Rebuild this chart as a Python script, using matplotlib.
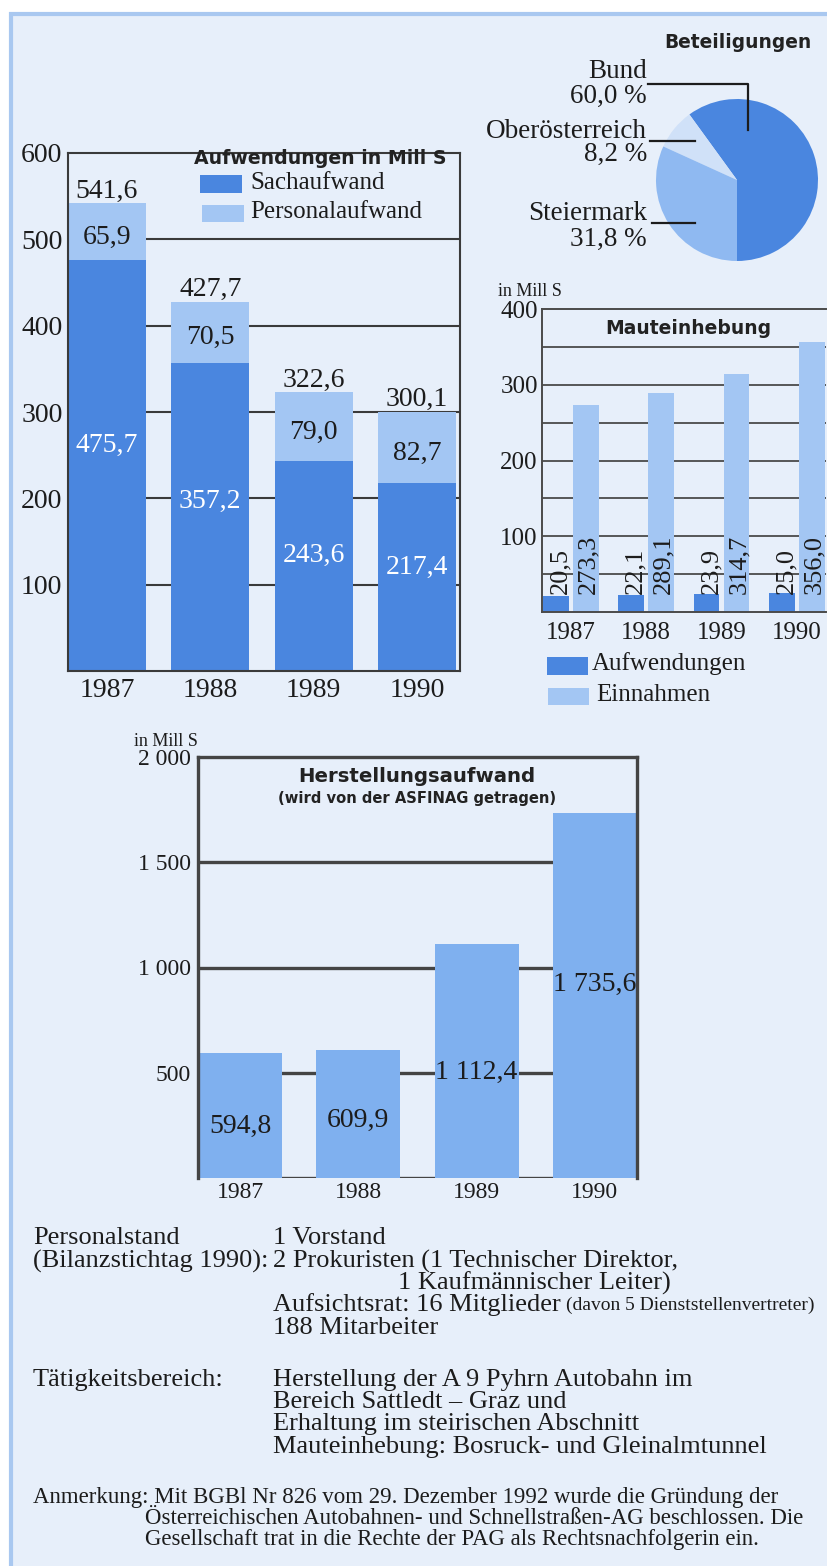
import matplotlib.pyplot as plt
from matplotlib.patches import Rectangle

plt.rcParams['font.family'] = ['Liberation Serif', 'DejaVu Serif']

# Aufwendungen in Mill S
years = ['1987', '1988', '1989', '1990']
sachaufwand = [475.7, 357.2, 243.6, 217.4]
personalaufwand = [65.9, 70.5, 79.0, 82.7]

# Beteiligungen in %
shareholders = ['Bund', 'Oberösterreich', 'Steiermark']
shares = [60.0, 8.2, 31.8]

# Mauteinhebung in Mill S
maut_aufwendungen = [20.5, 22.1, 23.9, 25.0]
maut_einnahmen = [273.3, 289.1, 314.7, 356.0]

# Herstellungsaufwand in Mill S
herstellung = [594.8, 609.9, 1112.4, 1735.6]

W, H = 827, 1566
PANEL = '#e7effa'
EDGE = '#a9c8f0'
DARK = '#4a86df'
LIGHT = '#a3c6f3'
MID = '#7fb0ef'
PALE = '#d0e1f8'
STEIER = '#8fb9f1'
INK = '#1c1c1c'
GRID = '#3a3a3a'
HEAD = dict(family=['DejaVu Sans'], fontweight='bold', color='#222222')


def de(v, digits=1):
    s = f"{v:,.{digits}f}"
    return s.replace(',', ' ').replace('.', ',')


fig = plt.figure(figsize=(W / 100, H / 100), dpi=100)


def box(x0, y0, x1, y1, z):
    ax = fig.add_axes([x0 / W, 1 - y1 / H, (x1 - x0) / W, (y1 - y0) / H])
    ax.set_zorder(z)
    ax.patch.set_visible(False)
    return ax


# light blue panel with border
bg = box(0, 0, W, H, -10)
bg.set_xlim(0, W)
bg.set_ylim(H, 0)
bg.axis('off')
bg.add_patch(Rectangle((10, 12), W, H, fc=PANEL, ec='none'))
bg.plot([10.5, 10.5], [12, H], color=EDGE, lw=3, solid_capstyle='butt')
bg.plot([9, W], [13.5, 13.5], color=EDGE, lw=3, solid_capstyle='butt')

# overlay for titles, legends, labels and notes
top = box(0, 0, W, H, 10)
top.set_xlim(0, W)
top.set_ylim(H, 0)
top.axis('off')

# --- Aufwendungen ---
ax1 = box(68, 153, 460, 671, 2)
x = range(len(years))
ax1.bar(x, sachaufwand, width=0.755, color=DARK, zorder=1)
ax1.bar(x, personalaufwand, bottom=sachaufwand, width=0.755, color=LIGHT, zorder=1)
for v in range(100, 600, 100):
    ax1.axhline(v, color=GRID, lw=1.5, zorder=0.5)
ax1.set_xlim(-0.3775, 3.417)
ax1.set_ylim(0, 600)
ax1.set_yticks(range(100, 700, 100))
ax1.set_xticks(list(x), years)
ax1.tick_params(length=0, labelsize=20, labelcolor=INK)
ax1.tick_params(axis='x', pad=5)
ax1.tick_params(axis='y', pad=4)
for sp in ax1.spines.values():
    sp.set_color(GRID)
    sp.set_linewidth(1.5)
for i, (s, p) in enumerate(zip(sachaufwand, personalaufwand)):
    ax1.text(i, s + p, de(s + p), ha='center', va='bottom', fontsize=20, color=INK)
    ax1.annotate(de(p), (i, s + p / 2), xytext=(0, -4), textcoords='offset points',
                 ha='center', va='center', fontsize=20, color=INK)
    ax1.text(i, s * 0.55, de(s), ha='center', va='center', fontsize=20, color='white')

top.text(320, 158, 'Aufwendungen in Mill S', ha='center', va='center', fontsize=13.6, **HEAD)
top.add_patch(Rectangle((200, 175), 42, 18, fc=DARK, ec='none'))
top.add_patch(Rectangle((202, 205), 42, 17, fc=LIGHT, ec='none'))
top.text(250, 183, 'Sachaufwand', ha='left', va='center', fontsize=18, color=INK)
top.text(250, 212, 'Personalaufwand', ha='left', va='center', fontsize=18, color=INK)

# --- Beteiligungen ---
axp = box(656, 99, 818, 261, 3)
axp.pie(shares, colors=[DARK, PALE, STEIER], startangle=270, counterclock=True,
        radius=1, wedgeprops=dict(linewidth=0))
axp.set_xlim(-1, 1)
axp.set_ylim(-1, 1)
axp.set_aspect('equal')

top.text(738, 43, 'Beteiligungen', ha='center', va='center', fontsize=13.4, **HEAD)
pie_label_y = [(71, 96), (131, 154), (214, 239)]
for name, pct, (y1, y2) in zip(shareholders, shares, pie_label_y):
    top.text(647, y1, name, ha='right', va='center', fontsize=19.5, color=INK)
    top.text(647, y2, de(pct) + ' %', ha='right', va='center', fontsize=19.5, color=INK)
top.plot([648, 748, 748], [84, 84, 130], color=INK, lw=1.6)
top.plot([650, 695], [141, 141], color=INK, lw=1.6)
top.plot([652, 695], [223, 223], color=INK, lw=1.6)

# --- Mauteinhebung ---
ax2 = box(542, 309, 826, 612, 2)
ax2.bar([i - 0.2 for i in x], maut_aufwendungen, width=0.34, color=DARK, zorder=1)
ax2.bar([i + 0.2 for i in x], maut_einnahmen, width=0.34, color=LIGHT, zorder=1)
for v in range(50, 400, 50):
    ax2.axhline(v, color='#4a4a4a', lw=1.3, zorder=0.5)
ax2.set_xlim(-0.383, 3.388)
ax2.set_ylim(0, 400)
ax2.set_yticks(range(100, 500, 100))
ax2.set_xticks(list(x), years)
ax2.tick_params(length=0, labelcolor=INK)
ax2.tick_params(axis='y', labelsize=18, pad=3)
ax2.tick_params(axis='x', labelsize=18, pad=7)
ax2.spines['right'].set_visible(False)
for sp in ('left', 'top', 'bottom'):
    ax2.spines[sp].set_color('#4a4a4a')
    ax2.spines[sp].set_linewidth(1.4)
for i, (a, e) in enumerate(zip(maut_aufwendungen, maut_einnahmen)):
    ax2.text(i - 0.14, 24, de(a), rotation=90, ha='center', va='bottom', fontsize=19, color=INK)
    ax2.text(i + 0.23, 24, de(e), rotation=90, ha='center', va='bottom', fontsize=19, color=INK)

top.text(498, 292, 'in Mill S', ha='left', va='center', fontsize=13, color=INK)
top.text(688, 328, 'Mauteinhebung', ha='center', va='center', fontsize=13.5, **HEAD)
top.add_patch(Rectangle((547, 657), 41, 18, fc=DARK, ec='none'))
top.add_patch(Rectangle((548, 688), 41, 17, fc=LIGHT, ec='none'))
top.text(592, 664, 'Aufwendungen', ha='left', va='center', fontsize=18, color=INK)
top.text(596, 695, 'Einnahmen', ha='left', va='center', fontsize=18, color=INK)

# --- Herstellungsaufwand ---
ax3 = box(198, 757, 637, 1178, 2)
ax3.bar(x, herstellung, width=0.71, color=MID, zorder=2)
for v in range(0, 2000, 500):
    ax3.axhline(v, color='#444444', lw=2.4, zorder=1)
ax3.set_xlim(-0.355, 3.356)
ax3.set_ylim(0, 2000)
ticks3 = [500, 1000, 1500, 2000]
ax3.set_yticks(ticks3, [de(t, 0) for t in ticks3])
ax3.set_xticks(list(x), years)
ax3.tick_params(length=0, labelcolor=INK)
ax3.tick_params(axis='y', labelsize=17, pad=5)
ax3.tick_params(axis='x', labelsize=17, pad=3)
ax3.spines['bottom'].set_visible(False)
for sp in ('left', 'top', 'right'):
    ax3.spines[sp].set_color('#444444')
    ax3.spines[sp].set_linewidth(2.4)
label_frac = [0.41, 0.45, 0.45, 0.53]
for i, v in enumerate(herstellung):
    ax3.text(i, v * label_frac[i], de(v), ha='center', va='center', fontsize=20, color=INK)

top.text(134, 742, 'in Mill S', ha='left', va='center', fontsize=13, color=INK)
top.text(417, 776, 'Herstellungsaufwand', ha='center', va='center', fontsize=14.2, **HEAD)
top.text(417, 798, '(wird von der ASFINAG getragen)', ha='center', va='center',
         fontsize=10.6, **HEAD)

# --- notes ---
TX = dict(ha='left', va='center', fontsize=19, color=INK)
top.text(33, 1238, 'Personalstand', **TX)
top.text(33, 1261, '(Bilanzstichtag 1990):', **TX)
top.text(273, 1238, '1 Vorstand', **TX)
top.text(273, 1261, '2 Prokuristen (1 Technischer Direktor,', **TX)
top.text(398, 1283, '1 Kaufmännischer Leiter)', **TX)
aufsicht = top.text(273, 1305, 'Aufsichtsrat: 16 Mitglieder', **TX)
top.annotate('(davon 5 Dienststellenvertreter)', xy=(1, 0), xycoords=aufsicht,
             xytext=(4, 2), textcoords='offset points', ha='left', va='bottom',
             fontsize=14, color=INK)
top.text(273, 1328, '188 Mitarbeiter', **TX)
top.text(33, 1380, 'Tätigkeitsbereich:', **TX)
top.text(273, 1380, 'Herstellung der A 9 Pyhrn Autobahn im', **TX)
top.text(273, 1402, 'Bereich Sattledt – Graz und', **TX)
top.text(273, 1424, 'Erhaltung im steirischen Abschnitt', **TX)
top.text(273, 1447, 'Mauteinhebung: Bosruck- und Gleinalmtunnel', **TX)
NT = dict(ha='left', va='center', fontsize=16.5, color=INK)
top.text(33, 1497, 'Anmerkung: Mit BGBl Nr 826 vom 29. Dezember 1992 wurde die Gründung der', **NT)
top.text(145, 1518, 'Österreichischen Autobahnen- und Schnellstraßen-AG beschlossen. Die', **NT)
top.text(145, 1539, 'Gesellschaft trat in die Rechte der PAG als Rechtsnachfolgerin ein.', **NT)

fig.savefig('out.png', dpi=100, facecolor='white')
